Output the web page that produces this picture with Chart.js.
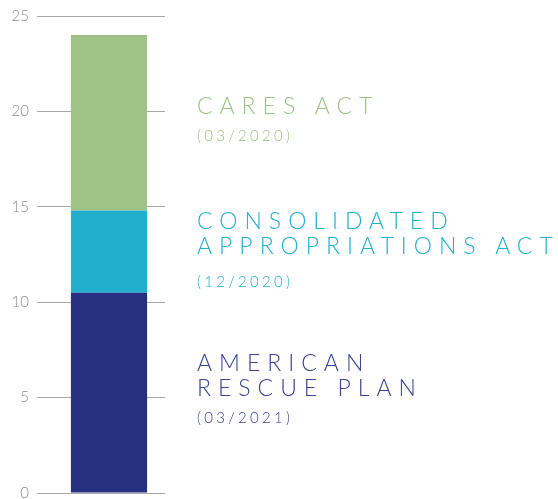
<!DOCTYPE html>
<html>
<head>
<meta charset="utf-8">
<script src="https://cdn.jsdelivr.net/npm/chart.js@4/dist/chart.umd.min.js"></script>
<style>
  body { margin: 0; background: #fff; }
  #wrap { position: relative; width: 558px; height: 499px; }
  .lbl { position: absolute; left: 197px; font-family: "Lato", sans-serif; font-weight: 300; white-space: nowrap; }
  .name { font-size: 23px; letter-spacing: 7px; line-height: 25px; }
  .date { font-size: 15px; letter-spacing: 3.3px; line-height: 16px; }
</style>
</head>
<body>
<div id="wrap">
  <canvas id="chart" width="558" height="499"></canvas>
  <div class="lbl" style="top:93px; color:#9dc286;">
    <div class="name">CARES ACT</div>
    <div class="date" style="margin-top:9px;">(03/2020)</div>
  </div>
  <div class="lbl" style="top:208px; color:#21afcd;">
    <div class="name">CONSOLIDATED<br>APPROPRIATIONS ACT</div>
    <div class="date" style="margin-top:15px;">(12/2020)</div>
  </div>
  <div class="lbl" style="top:350px; color:#3a4192;">
    <div class="name">AMERICAN<br>RESCUE PLAN</div>
    <div class="date" style="margin-top:9px;">(03/2021)</div>
  </div>
</div>
<script>
const categories = ['Relief'];
const seriesNames = ['American Rescue Plan', 'Consolidated Appropriations Act', 'CARES Act'];
const arpValues = [10.5];
const caaValues = [4.3];
const caresValues = [9.2];
const yTicks = [0, 5, 10, 15, 20, 25];

const colors = ['#25307e', '#21afcd', '#9fc386'];

new Chart(document.getElementById('chart'), {
  type: 'bar',
  data: {
    labels: categories,
    datasets: [arpValues, caaValues, caresValues].map((vals, i) => ({
      label: seriesNames[i],
      data: vals,
      backgroundColor: colors[i],
      borderWidth: 0,
      barPercentage: 0.68,
      categoryPercentage: 1
    }))
  },
  options: {
    responsive: false,
    animation: false,
    layout: { padding: { top: 16, bottom: 6, left: 0, right: 393 } },
    plugins: { legend: { display: false }, tooltip: { enabled: false } },
    scales: {
      x: { stacked: true, display: false },
      y: {
        stacked: true,
        min: 0,
        max: 25,
        afterBuildTicks: (axis) => { axis.ticks = yTicks.map(v => ({ value: v })); },
        afterFit: (axis) => {
          axis.width = 53;
          axis.paddingTop = 0;
          axis.paddingBottom = 0;
        },
        border: { display: false },
        grid: { color: '#a8a8a8', lineWidth: 1, tickLength: 16, tickColor: '#a8a8a8' },
        ticks: {
          padding: 8,
          color: '#8a8a8a',
          font: { family: 'Lato', size: 15, weight: '300' }
        }
      }
    }
  }
});
</script>
</body>
</html>
